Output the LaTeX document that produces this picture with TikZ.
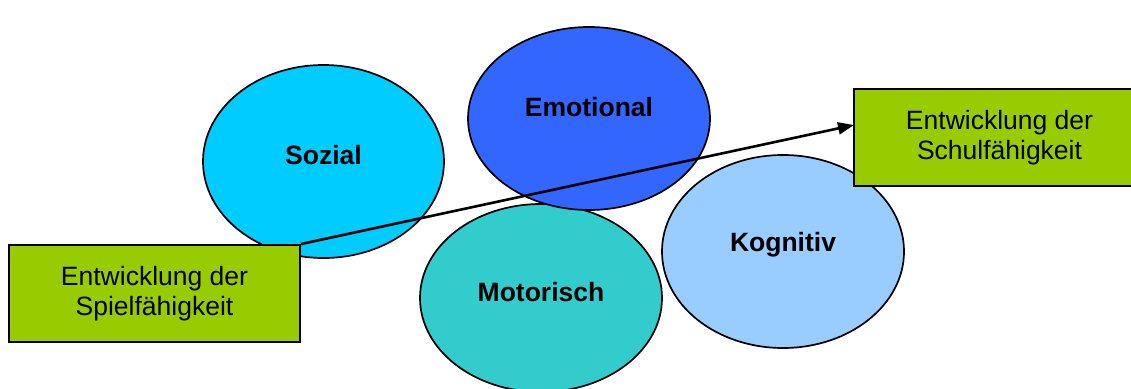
\documentclass[tikz,border=0pt]{standalone}
\usepackage{fontspec}
\setmainfont{Liberation Sans}
\usetikzlibrary{shapes.geometric,arrows.meta}
\definecolor{cSozial}{HTML}{00CCFF}
\definecolor{cEmo}{HTML}{3366FF}
\definecolor{cMoto}{HTML}{33CCCC}
\definecolor{cKogn}{HTML}{99CCFF}
\definecolor{cBox}{HTML}{99CC00}
\tikzset{
  blob/.style={ellipse, draw=black, line width=1.7pt, inner sep=0pt},
  blobtext/.style={font=\fontsize{26.5}{30}\selectfont\bfseries, inner sep=0pt},
  greenbox/.style={rectangle, draw=black, line width=2pt, fill=cBox, inner sep=0pt,
    minimum width=291pt, minimum height=97pt, align=center,
    font=\fontsize{26.5}{30}\selectfont},
  link/.style={line width=2.6pt, -{Triangle[length=16pt,width=12pt]}}
}
\begin{document}
\begin{tikzpicture}[x=1pt,y=-1pt]
\useasboundingbox (0,0) rectangle (1131,388);
% ellipses
\node[blob, fill=cSozial, minimum width=241pt, minimum height=193pt] (sozial) at (323.5,161.5) {};
\node[blobtext] (sozialT) at (323.5,155) {Sozial};
\node[blob, fill=cMoto, minimum width=242pt, minimum height=188pt] (motorisch) at (541,298) {};
\node[blobtext] (motorischT) at (541,292) {Motorisch};
\node[blob, fill=cEmo, minimum width=242pt, minimum height=183pt] (emotional) at (589,118.5) {};
\node[blobtext] (emotionalT) at (589,107) {Emotional};
\node[blob, fill=cKogn, minimum width=242pt, minimum height=193pt] (kognitiv) at (783,251.5) {};
\node[blobtext] (kognitivT) at (783,245) {Kognitiv};
% boxes
\node[greenbox] (spiel) at (154.5,293.5) {Entwicklung der\\Spielfähigkeit};
\node[greenbox] (schul) at (999.5,137.5) {Entwicklung der\\Schulfähigkeit};
\coordinate (tip) at (854,125);
\draw[link] (spiel.north east) -- (tip);
\end{tikzpicture}
\end{document}
